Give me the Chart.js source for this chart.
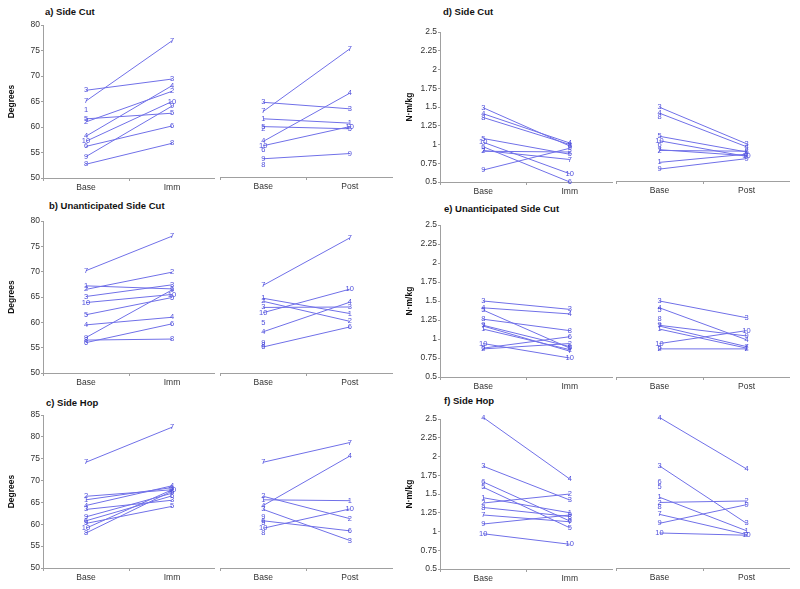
<!DOCTYPE html>
<html>
<head>
<meta charset="utf-8">
<script src="https://cdn.jsdelivr.net/npm/chart.js"></script>
<style>
body { margin: 0; background: #fff; }
#wrap { position: relative; width: 800px; height: 589px; overflow: hidden; font-family: "Liberation Sans", Arial, sans-serif; }
#wrap canvas { position: absolute; }
.ttl { position: absolute; font-weight: bold; font-size: 9.5px; line-height: 12px; color: #111; white-space: nowrap; }
</style>
</head>
<body>
<div id="wrap">
  <div class="ttl" style="left:45px;top:6px">a) Side Cut</div>
  <div class="ttl" style="left:49px;top:200px">b) Unanticipated Side Cut</div>
  <div class="ttl" style="left:46px;top:397px">c) Side Hop</div>
  <div class="ttl" style="left:443px;top:6px">d) Side Cut</div>
  <div class="ttl" style="left:444px;top:203px">e) Unanticipated Side Cut</div>
  <div class="ttl" style="left:444px;top:395px">f) Side Hop</div>
</div>
<script>
// subjects 1..10
const subjects = ['1', '2', '3', '4', '5', '6', '7', '8', '9', '10'];
const preImm = ['Base', 'Imm'];
const prePost = ['Base', 'Post'];

// knee angle (degrees)
const aBase = [63.4, 61.0, 67.2, 58.2, 61.6, 56.2, 65.1, 52.7, 54.2, 57.2];
const aImm  = [null, 67.0, 69.4, 68.1, 62.7, 60.2, 76.9, 56.8, 64.1, 65.0];
const aPost = [62.4, null, 65.7, 69.3, 61.1, null, 79.5, null, 55.4, 61.6];

const bBase = [67.2, 66.5, 65.1, 59.5, 61.5, 56.0, 70.2, 56.5, 57.0, 63.9];
const bImm  = [66.6, 69.9, 67.4, 61.0, 64.9, 59.7, 77.0, 56.7, 66.4, 65.5];
const bPost = [63.7, 61.9, 65.2, 66.3, null, 60.6, 81.1, null, null, 69.3];

const cBase = [65.6, 66.4, 63.4, 64.3, 60.2, 60.8, 74.2, 58.0, 61.7, 59.1];
const cImm  = [68.4, 67.9, 65.5, 68.8, 64.1, 66.5, 82.2, 67.6, 67.1, 67.9];
const cPost = [65.4, 61.3, 56.3, 75.6, null, 58.5, 78.7, null, null, 63.5];

// moment (N·m/kg)
const dBase1 = [null, 0.91, 1.49, 1.41, 1.08, 0.97, 0.92, 1.36, 0.66, 1.03];
const dImm   = [null, 0.90, 0.98, 1.02, 0.87, 0.50, 0.80, 1.00, 0.95, 0.61];
const dBase2 = [0.75, 0.91, 1.49, 1.41, 1.10, 0.98, 0.92, 1.36, 0.66, 1.04];
const dPost  = [0.86, 0.90, 1.00, 0.96, 0.89, null, 0.84, null, 0.80, 0.83];

const eBase = [1.13, 0.87, 1.50, 1.41, 1.38, 0.88, 1.17, 1.26, 1.18, 0.94];
const eImm  = [0.86, 0.94, 1.39, 1.33, 0.88, 1.03, 0.84, 1.11, 0.90, 0.75];
const ePost = [0.88, 0.87, 1.28, 0.99, null, null, 0.90, null, 1.04, 1.11];

const fBase = [1.45, 1.38, 1.87, 2.52, 1.59, 1.66, 1.22, 1.32, 1.10, 0.97];
const fImm  = [1.25, 1.50, 1.42, 1.70, 1.05, 1.14, 1.13, 1.20, 1.22, 0.83];
const fPost = [1.00, 1.40, 1.10, 1.83, null, null, 0.95, null, 1.35, 0.94];

const lineColor = 'rgb(112, 112, 232)';
const textColor = 'rgb(80, 80, 220)';
const axisColor = '#a0a0a0';
const FONT = '"Liberation Sans", Arial, sans-serif';

// subject numbers drawn at each end of the lines
const numberLabels = {
    id: 'numberLabels',
    afterDatasetsDraw(chart) {
        const ctx = chart.ctx;
        ctx.save();
        ctx.font = '7.5px ' + FONT;
        ctx.fillStyle = textColor;
        ctx.textAlign = 'center';
        ctx.textBaseline = 'middle';
        chart.data.datasets.forEach((ds, i) => {
            const meta = chart.getDatasetMeta(i);
            meta.data.forEach((pt, j) => {
                if (ds.data[j] == null) return;
                ctx.fillText(ds.label, pt.x, pt.y);
            });
        });
        ctx.restore();
    }
};

function pairPlot(p) {
    const padTop = 10, xh = 20;
    const yw = p.yTitle ? p.yw : 0;
    const left = p.area[0] - yw;
    const top = p.area[1] - padTop;
    const w = p.area[2] - left;
    const h = p.area[3] + xh - top;

    const canvas = document.createElement('canvas');
    canvas.width = w;
    canvas.height = h;
    canvas.style.left = left + 'px';
    canvas.style.top = top + 'px';
    canvas.style.width = w + 'px';
    canvas.style.height = h + 'px';
    document.getElementById('wrap').appendChild(canvas);

    const datasets = subjects.map((s, i) => ({
        label: s,
        data: [p.before[i], p.after[i]],
        borderColor: lineColor,
        borderWidth: 1,
        pointRadius: 0,
        clip: false,
        spanGaps: false
    }));

    let yScale;
    if (p.yTitle) {
        yScale = {
            min: p.yMin,
            max: p.yMax,
            ticks: {
                stepSize: p.step,
                color: '#333',
                font: { family: FONT, size: 8.5 },
                padding: 1,
                callback: v => String(Math.round(v * 100) / 100)
            },
            grid: { drawOnChartArea: false, tickLength: 2, color: axisColor },
            border: { color: axisColor },
            title: {
                display: true,
                text: p.yTitle,
                color: '#111',
                font: { family: FONT, size: 8.5, weight: 'bold' },
                padding: { top: p.titlePad, bottom: 0 }
            },
            afterFit: s => { s.width = yw; }
        };
    } else {
        yScale = { display: false, min: p.yMin, max: p.yMax };
    }

    new Chart(canvas.getContext('2d'), {
        type: 'line',
        data: { labels: p.cats, datasets: datasets },
        options: {
            responsive: false,
            animation: false,
            events: [],
            layout: { padding: { top: padTop, left: 0, right: 0, bottom: 0 }, autoPadding: false },
            plugins: { legend: { display: false }, tooltip: { enabled: false } },
            scales: {
                x: {
                    type: 'category',
                    offset: true,
                    grid: { drawOnChartArea: false, offset: true, tickLength: 3, color: axisColor },
                    border: { color: axisColor },
                    ticks: { color: '#333', font: { family: FONT, size: 8.5 }, padding: 2, maxRotation: 0, autoSkip: false },
                    afterFit: s => { s.height = xh; }
                },
                y: yScale
            }
        },
        plugins: [numberLabels]
    });
}

const deg = { yTitle: 'Degrees', yw: 43, titlePad: 7, step: 5 };
const nm = { yTitle: 'N·m/kg', yw: 40, titlePad: 5, step: 0.25 };

pairPlot({ ...deg, area: [43, 25, 215, 178], yMin: 50, yMax: 80, cats: preImm, before: aBase, after: aImm });
pairPlot({ area: [220, 25, 393, 177], yMin: 50, yMax: 85, cats: prePost, before: aBase, after: aPost });
pairPlot({ ...deg, area: [43, 221, 215, 373], yMin: 50, yMax: 80, cats: preImm, before: bBase, after: bImm });
pairPlot({ area: [220, 221, 393, 373], yMin: 50, yMax: 85, cats: prePost, before: bBase, after: bPost });
pairPlot({ ...deg, area: [43, 415, 215, 568], yMin: 50, yMax: 85, cats: preImm, before: cBase, after: cImm });
pairPlot({ area: [220, 415, 393, 568], yMin: 50, yMax: 85, cats: prePost, before: cBase, after: cPost });

pairPlot({ ...nm, area: [440, 32, 613, 182], yMin: 0.5, yMax: 2.5, cats: preImm, before: dBase1, after: dImm });
pairPlot({ area: [616, 32, 790, 181], yMin: 0.5, yMax: 2.5, cats: prePost, before: dBase2, after: dPost });
pairPlot({ ...nm, area: [440, 225, 613, 377], yMin: 0.5, yMax: 2.5, cats: preImm, before: eBase, after: eImm });
pairPlot({ area: [616, 225, 790, 377], yMin: 0.5, yMax: 2.5, cats: prePost, before: eBase, after: ePost });
pairPlot({ ...nm, area: [440, 419, 613, 569], yMin: 0.5, yMax: 2.5, cats: preImm, before: fBase, after: fImm });
pairPlot({ area: [616, 419, 790, 568], yMin: 0.5, yMax: 2.5, cats: prePost, before: fBase, after: fPost });
</script>
</body>
</html>
